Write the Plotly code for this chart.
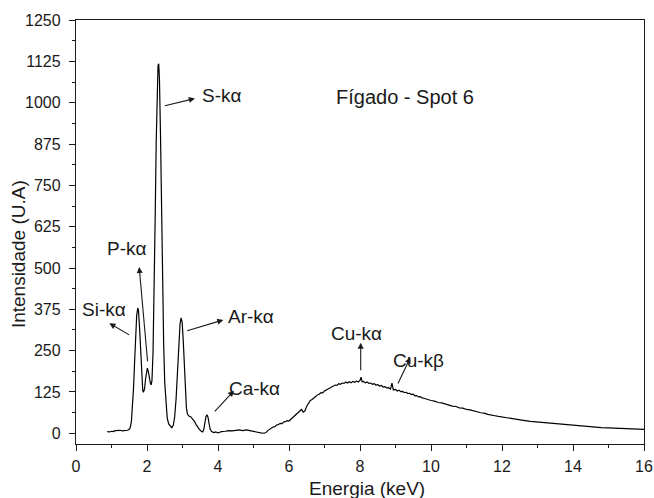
import plotly.graph_objects as go

# Energy (keV) and intensity (U.A)
energy = [
    0.88, 0.95, 1.00, 1.05, 1.10, 1.15, 1.20, 1.25, 1.30, 1.35, 1.40, 1.45, 1.50, 1.53, 1.56, 1.59,
    1.62, 1.65, 1.68, 1.71, 1.74, 1.76, 1.79, 1.82, 1.85, 1.88, 1.90, 1.93, 1.96, 1.99, 2.01, 2.04,
    2.07, 2.10, 2.12, 2.14, 2.17, 2.20, 2.23, 2.26, 2.29, 2.31, 2.33, 2.35, 2.38, 2.41, 2.44, 2.47,
    2.50, 2.53, 2.57, 2.61, 2.66, 2.70, 2.74, 2.78, 2.82, 2.86, 2.90, 2.93, 2.96, 2.99, 3.02, 3.05,
    3.08, 3.11, 3.14, 3.18, 3.23, 3.28, 3.33, 3.38, 3.43, 3.48, 3.53, 3.57, 3.60, 3.63, 3.66, 3.69,
    3.72, 3.75, 3.78, 3.82, 3.88, 3.94, 4.00, 4.05, 4.10, 4.20, 4.30, 4.40, 4.50, 4.60, 4.70, 4.80,
    4.90, 5.00, 5.10, 5.20, 5.30, 5.35,
    5.40, 5.45, 5.50, 5.55, 5.60, 5.65, 5.70, 5.75, 5.80, 5.85, 5.90, 5.95, 6.00, 6.05, 6.10, 6.15,
    6.20, 6.25, 6.30, 6.35, 6.40, 6.45, 6.50, 6.55, 6.60, 6.65, 6.70, 6.75, 6.80, 6.85, 6.90, 6.95,
    7.00, 7.05, 7.10, 7.15, 7.20, 7.25, 7.30, 7.35, 7.40, 7.45, 7.50, 7.55, 7.60, 7.65, 7.70, 7.75,
    7.80, 7.85, 7.90, 7.95, 8.00, 8.03, 8.06, 8.10, 8.15, 8.20, 8.25, 8.30, 8.35, 8.40, 8.45, 8.50,
    8.55, 8.60, 8.65, 8.70, 8.75, 8.80, 8.86, 8.90, 8.94, 9.00, 9.05, 9.10, 9.15, 9.20, 9.25, 9.30,
    9.35, 9.40, 9.45, 9.50, 9.55, 9.60, 9.65, 9.70, 9.75, 9.80, 9.85, 9.90, 9.95, 10.0, 10.1, 10.2,
    10.3, 10.4, 10.5, 10.6, 10.7, 10.8, 10.9, 11.0, 11.1, 11.2, 11.3, 11.4, 11.5, 11.6, 11.7, 11.8,
    11.9, 12.0, 12.2, 12.4, 12.6, 12.8, 13.0, 13.2, 13.4, 13.6, 13.8, 14.0, 14.2, 14.4, 14.6, 14.8,
    15.0, 15.2, 15.4, 15.6, 15.8, 16.0,
]
intensity = [
    5, 4, 6, 5, 8, 9, 8, 9, 7, 7, 8, 9, 12, 18, 35, 75,
    135, 215, 300, 358, 379, 372, 320, 240, 168, 130, 124, 134, 165, 190, 197, 186,
    165, 149, 148, 160, 245, 410, 650, 885, 1060, 1112, 1118, 1075, 905, 665, 435, 265,
    152, 88, 46, 28, 20, 17, 24, 50, 105, 190, 280, 330, 349, 336, 282, 196,
    120, 76, 58, 52, 50, 45, 37, 27, 18, 11, 6, 4, 12, 32, 50, 56,
    48, 28, 12, 5, 2, 4, 1, 3, 5, 6, 8, 7, 9, 10, 8, 10,
    8, 5, 3, 1, 0, 2,
    8, 12, 15, 19, 20, 25, 26, 30, 29, 34, 35, 38, 37, 42, 45, 50,
    55, 59, 65, 72, 64, 68, 82, 90, 99, 102, 108, 111, 116, 118, 123, 122,
    128, 131, 135, 137, 141, 143, 146, 145, 150, 148, 152, 151, 155, 152, 156, 153,
    157, 154, 158, 155, 160, 170, 156, 157, 153, 155, 151, 152, 148, 150, 146, 147,
    143, 145, 140, 141, 137, 138, 134, 152, 131, 133, 128, 130, 126, 127, 123, 124,
    120, 121, 117, 118, 113, 114, 110, 111, 107, 106, 104, 102, 101, 99, 97, 93,
    92, 88, 86, 82, 81, 77, 76, 72, 71, 67, 65, 62, 61, 57, 56, 53,
    51, 49, 45, 42, 39, 36, 34, 31, 29, 27, 25, 23, 22, 20, 19, 17,
    16, 15, 14, 14, 13, 12,
]

x_ticks = [0, 2, 4, 6, 8, 10, 12, 14, 16]
y_ticks = [0, 125, 250, 375, 500, 625, 750, 875, 1000, 1125, 1250]

# Peak labels and their arrows (arrow head near the label, tail near the peak)
labels = ["S-kα", "P-kα", "Si-kα", "Ar-kα", "Ca-kα", "Cu-kα", "Cu-kβ"]
label_x = [3.49, 1.45, 0.80, 4.22, 4.25, 7.90, 9.66]
label_y = [1023, 560, 373, 353, 134, 302, 220]
label_anchor = ["left", "center", "center", "left", "left", "center", "center"]
head_x = [3.35, 1.78, 0.94, 4.15, 4.45, 8.02, 9.42]
head_y = [1013, 503, 333, 343, 129, 274, 230]
tail_x = [2.46, 2.02, 1.54, 3.09, 3.87, 8.02, 9.05]
tail_y = [990, 213, 295, 309, 62, 186, 146]

FONT = "Liberation Sans, Arial, sans-serif"
INK = "#1a1a1a"

fig = go.Figure()
fig.add_trace(go.Scatter(
    x=energy, y=intensity, mode="lines",
    line=dict(color="black", width=1.2), showlegend=False,
))

annotations = []
for t, lx, ly, anc, hx, hy, tx, ty in zip(labels, label_x, label_y, label_anchor,
                                          head_x, head_y, tail_x, tail_y):
    annotations.append(dict(
        x=hx, y=hy, ax=tx, ay=ty, xref="x", yref="y", axref="x", ayref="y",
        text="", showarrow=True, arrowhead=2, arrowsize=1.1, arrowwidth=1.1,
        arrowcolor=INK, standoff=0, startstandoff=0,
    ))
    annotations.append(dict(
        x=lx, y=ly, xref="x", yref="y", text=t, showarrow=False,
        xanchor=anc, yanchor="middle", font=dict(family=FONT, size=19, color=INK),
    ))

annotations.append(dict(
    x=9.26, y=1018, xref="x", yref="y", text="Fígado - Spot 6", showarrow=False,
    xanchor="center", yanchor="middle", font=dict(family=FONT, size=20, color=INK),
))
# axis titles
annotations.append(dict(
    x=0.512, y=-0.104, xref="paper", yref="paper", text="Energia (keV)", showarrow=False,
    xanchor="center", yanchor="middle", font=dict(family=FONT, size=19, color=INK),
))
annotations.append(dict(
    x=-0.102, y=0.448, xref="paper", yref="paper", text="Intensidade (U.A)", showarrow=False,
    textangle=-90, xanchor="center", yanchor="middle",
    font=dict(family=FONT, size=19, color=INK),
))

fig.update_layout(
    width=654, height=498,
    margin=dict(l=76, r=10, t=20, b=54, autoexpand=False),
    plot_bgcolor="white", paper_bgcolor="white",
    font=dict(family=FONT, size=16, color=INK),
    annotations=annotations,
    xaxis=dict(
        range=[0, 16], tickvals=x_ticks, ticktext=[str(v) for v in x_ticks],
        showline=True, linecolor=INK, linewidth=1.3, mirror=True,
        ticks="outside", ticklen=6, tickwidth=1.2, tickcolor=INK,
        minor=dict(dtick=1, ticks="outside", ticklen=3, tickwidth=1.1, tickcolor=INK),
        showgrid=False, zeroline=False, ticklabelstandoff=2,
        tickfont=dict(size=16),
    ),
    yaxis=dict(
        range=[-32.5, 1250.5], tickvals=y_ticks, ticktext=[str(v) for v in y_ticks],
        showline=True, linecolor=INK, linewidth=1.3, mirror=True,
        ticks="outside", ticklen=6, tickwidth=1.2, tickcolor=INK,
        minor=dict(tick0=0, dtick=62.5, ticks="outside", ticklen=3, tickwidth=1.1, tickcolor=INK),
        showgrid=False, zeroline=False, ticklabelstandoff=5,
        tickfont=dict(size=16),
    ),
)

# remove the default page margin so the 654x498 figure fills the window exactly
fig.write_html(
    "out.html",
    config={"displayModeBar": False},
    post_script="document.body.style.margin='0';document.body.style.overflow='hidden';",
)
